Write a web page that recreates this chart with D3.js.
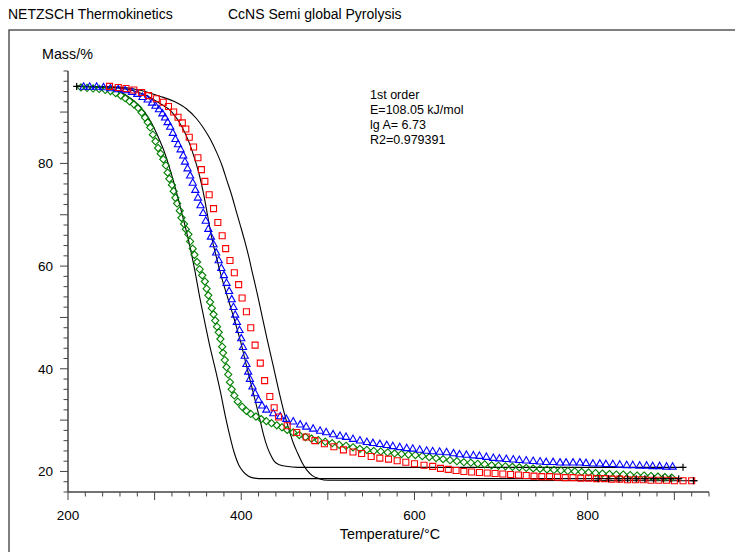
<!DOCTYPE html>
<html><head><meta charset="utf-8">
<script src="https://cdn.jsdelivr.net/npm/d3@7"></script>
<style>body{margin:0;background:#fff}svg{display:block}text{font-family:"Liberation Sans",Arial,sans-serif;fill:#000}</style>
</head><body><svg id="c" width="735" height="552"></svg>
<script>
const titleLeft = "NETZSCH Thermokinetics";
const titleRight = "CcNS Semi global Pyrolysis";
const yLabel = "Mass/%";
const xLabel = "Temperature/°C";
const annotation = ["1st order", "E=108.05 kJ/mol", "lg A= 6.73", "R2=0.979391"];
const xTickLabels = [200, 400, 600, 800];
const yTickLabels = [20, 40, 60, 80];

// measured points [T, mass]
const green = [[215,94.8],[222,94.7],[229,94.6],[236,94.5],[243,94.3],[249,94.1],[255,93.7],[261,93.2],[266,92.7],[271,92.1],[276,91.5],[281,90.8],[285,89.9],[289,88.9],[292,88.0],[295,87.0],[298,85.6],[301,84.3],[304,83.0],[307,81.9],[310,80.8],[313,79.6],[315,78.2],[317,77.0],[320,75.8],[322,74.6],[324,73.3],[326,72.2],[329,70.8],[331,69.4],[334,68.2],[336,67.2],[339,66.2],[341,64.8],[344,63.4],[346,62.2],[349,60.8],[352,59.4],[355,58.2],[358,57.0],[360,55.6],[362,54.3],[364,53.0],[366,51.8],[368,50.6],[370,49.4],[372,48.2],[374,47.1],[376,45.8],[378,44.3],[379,43.1],[381,41.7],[383,40.3],[385,38.9],[387,37.4],[389,36.0],[392,34.8],[396,33.6],[401,32.6],[406,31.8],[411,31.2],[417,30.7],[423,30.2],[429,29.8],[435,29.4],[441,29.0],[447,28.6],[453,28.1],[460,27.6],[467,27.1],[474,26.7],[481,26.4],[489,26.1],[497,25.8],[505,25.5],[513,25.2],[521,25.0],[529,24.7],[537,24.4],[545,24.2],[553,24.0],[561,23.9],[569,23.7],[577,23.5],[585,23.4],[593,23.3],[601,23.2],[609,23.0],[617,22.8],[625,22.6],[633,22.4],[641,22.2],[649,22.0],[657,21.8],[665,21.7],[673,21.5],[681,21.4],[689,21.2],[697,21.1],[705,21.0],[713,20.9],[721,20.8],[729,20.7],[737,20.6],[745,20.5],[753,20.4],[761,20.3],[769,20.2],[777,20.1],[785,20.0],[793,19.9],[801,19.8],[809,19.7],[817,19.6],[825,19.5],[833,19.4],[841,19.4],[849,19.3],[857,19.2],[865,19.2],[873,19.1],[881,19.0],[889,18.9],[897,18.8]];

const blue = [[218,95.0],[225,95.0],[233,95.0],[241,94.9],[249,94.7],[258,94.5],[266,94.3],[274,94.0],[280,93.6],[286,93.0],[292,92.5],[297,91.9],[301,91.3],[305,90.6],[309,89.8],[312,89.0],[315,88.1],[318,87.2],[321,86.0],[324,84.8],[327,83.8],[330,82.8],[333,81.6],[335,80.4],[338,79.1],[341,77.7],[344,76.3],[347,74.9],[350,73.4],[353,71.9],[356,70.4],[359,68.9],[362,67.3],[365,65.8],[368,64.3],[371,62.7],[374,61.2],[377,59.7],[380,58.3],[383,56.8],[386,55.2],[389,53.6],[391,52.1],[393,50.6],[395,49.2],[398,47.6],[400,46.0],[402,44.3],[404,42.6],[406,41.0],[408,39.5],[410,38.1],[413,36.6],[416,35.3],[420,34.0],[424,32.9],[429,32.1],[437,31.4],[445,30.8],[452,30.3],[460,29.8],[468,29.2],[475,28.8],[483,28.4],[491,28.0],[498,27.7],[506,27.3],[514,27.0],[521,26.8],[529,26.4],[537,26.1],[545,25.8],[552,25.6],[560,25.4],[568,25.2],[575,25.0],[583,24.8],[591,24.6],[598,24.5],[606,24.3],[614,24.1],[621,24.0],[629,23.9],[637,23.8],[645,23.6],[652,23.4],[660,23.3],[668,23.2],[675,23.1],[683,22.9],[691,22.7],[698,22.6],[706,22.5],[714,22.4],[721,22.3],[729,22.2],[737,22.1],[745,22.0],[752,21.9],[760,21.9],[768,21.8],[775,21.8],[783,21.8],[791,21.8],[798,21.7],[806,21.6],[814,21.6],[821,21.5],[829,21.5],[837,21.4],[845,21.3],[852,21.3],[860,21.2],[868,21.2],[875,21.1],[883,21.1],[891,21.0],[898,21.0]];

const red = [[248,95.0],[258,94.8],[267,94.6],[276,94.3],[285,93.8],[293,93.2],[302,92.6],[310,91.9],[316,91.1],[322,90.0],[327,89.0],[332,87.9],[336,86.7],[340,85.1],[345,83.2],[350,81.1],[354,78.8],[358,76.5],[363,73.9],[368,71.2],[373,68.5],[378,65.9],[382,63.4],[387,61.1],[392,58.7],[397,56.4],[401,53.8],[406,51.1],[411,48.0],[416,44.6],[422,41.1],[427,37.7],[433,34.6],[438,32.4],[443,30.6],[453,28.9],[464,27.6],[475,26.7],[485,26.0],[496,25.4],[507,24.8],[518,24.2],[529,23.8],[539,23.5],[550,22.9],[560,22.6],[570,22.4],[580,22.1],[590,21.8],[600,21.5],[611,21.2],[621,21.0],[630,20.6],[639,20.4],[648,20.2],[657,20.0],[666,19.9],[675,19.8],[684,19.7],[693,19.6],[702,19.5],[711,19.4],[720,19.3],[729,19.2],[738,19.1],[747,19.0],[756,19.0],[765,18.9],[774,18.8],[783,18.8],[792,18.7],[801,18.7],[810,18.6],[819,18.6],[828,18.5],[837,18.5],[846,18.4],[855,18.4],[864,18.4],[873,18.3],[882,18.3],[891,18.3],[900,18.2],[910,18.2],[920,18.2]];

// fitted curves [T, mass]
const fitGreen = [[210,95.0],[230,94.9],[250,94.5],[262,93.8],[272,92.7],[280,91.6],[288,90.1],[296,88.0],[303,85.6],[310,82.8],[316,79.8],[322,76.4],[328,72.6],[334,68.6],[340,64.4],[346,59.5],[352,54.0],[358,49.0],[364,44.2],[370,40.0],[376,35.5],[382,30.5],[387,26.8],[392,23.6],[397,21.3],[402,20.0],[408,19.1],[415,18.7],[425,18.6],[902,18.6]];
const fitBlue = [[210,95.0],[240,94.9],[270,94.4],[290,93.3],[305,91.8],[320,90.0],[332,87.0],[340,84.0],[347,80.5],[352,77.5],[356,74.5],[361,70.0],[366,65.5],[372,61.3],[377,58.0],[385,53.5],[392,49.6],[400,44.8],[406,40.6],[412,36.6],[417,33.2],[422,29.8],[426,27.0],[430,24.8],[434,23.2],[438,22.0],[444,21.3],[452,21.0],[465,20.8],[910,20.8]];
const fitRed = [[210,95.0],[250,94.9],[279,94.4],[306,93.1],[322,92.1],[337,90.6],[348,88.8],[356,87.0],[364,84.8],[372,82.0],[378,79.5],[383,76.9],[389,73.8],[394,70.8],[399,67.9],[404,64.9],[409,61.6],[413,58.6],[418,55.0],[424,50.3],[430,45.7],[437,40.5],[443,36.0],[449,31.8],[455,28.2],[460,25.6],[465,23.6],[470,21.8],[476,20.2],[482,19.2],[490,18.6],[500,18.3],[927,18.2]];
const crosses = [[210,95.0],[812,18.6],[824,18.6],[836,18.6],[846,18.6],[856,18.6],[866,18.6],[876,18.6],[887,18.6],[896,18.6],[905,18.6],[910,20.8],[922,18.2]];

const svg = d3.select("#c");
const x = d3.scaleLinear().domain([200, 940]).range([68, 709]);
const y = d3.scaleLinear().domain([16, 98]).range([492, 71]);

// frame
svg.append("path").attr("d","M9,552V30H735").attr("fill","none").attr("stroke","#555").attr("stroke-width",1.5);

svg.append("text").attr("x",8).attr("y",19).attr("font-size",14).text(titleLeft);
svg.append("text").attr("x",228).attr("y",19).attr("font-size",14).text(titleRight);

// axes
const axCol = "#444";
svg.append("line").attr("x1",x(200)).attr("x2",x(940)).attr("y1",y(16)).attr("y2",y(16)).attr("stroke",axCol).attr("stroke-width",1.5);
svg.append("line").attr("x1",x(200)).attr("x2",x(200)).attr("y1",y(16)).attr("y2",y(98)).attr("stroke",axCol).attr("stroke-width",1.5);

const xt = d3.range(200, 941, 20);
svg.append("g").selectAll("line").data(xt).join("line")
  .attr("x1",d=>x(d)).attr("x2",d=>x(d)).attr("y1",y(16)).attr("y2",d=> y(16) + (d%100===0?8:4.5))
  .attr("stroke",axCol).attr("stroke-width",1);
const yt = d3.range(16, 98.1, 2);
svg.append("g").selectAll("line").data(yt).join("line")
  .attr("x1",d=> x(200) - (d%10===0?8:4.5)).attr("x2",x(200)).attr("y1",d=>y(d)).attr("y2",d=>y(d))
  .attr("stroke",axCol).attr("stroke-width",1);

svg.append("g").selectAll("text").data(xTickLabels).join("text")
  .attr("x",d=>x(d)).attr("y",y(16)+28).attr("text-anchor","middle").attr("font-size",13.5).text(d=>d);
svg.append("g").selectAll("text").data(yTickLabels).join("text")
  .attr("x",x(200)-15).attr("y",d=>y(d)+5).attr("text-anchor","end").attr("font-size",13.5).text(d=>d);

svg.append("text").attr("x",42).attr("y",59).attr("font-size",14.3).text(yLabel);
svg.append("text").attr("x",390).attr("y",539).attr("text-anchor","middle").attr("font-size",14.3).text(xLabel);

svg.append("g").selectAll("text").data(annotation).join("text")
  .attr("x",370).attr("y",(d,i)=>98.5+i*15.3).attr("font-size",12.5).text(d=>d);

// fitted lines
const line = d3.line().x(d=>x(d[0])).y(d=>y(d[1])).curve(d3.curveMonotoneX);
[fitGreen, fitBlue, fitRed].forEach(f=>{
  svg.append("path").attr("d",line(f)).attr("fill","none").attr("stroke","#000").attr("stroke-width",1.1);
});

// markers
const diamond = "M0,-3.6L3.6,0L0,3.6L-3.6,0Z";
const tri = "M0,-3.6L3.6,2.8L-3.6,2.8Z";
const sq = "M-3,-3H3V3H-3Z";
function pts(data, path, col){
  svg.append("g").selectAll("path").data(data).join("path")
    .attr("transform",d=>`translate(${x(d[0])},${y(d[1])})`).attr("d",path)
    .attr("fill","none").attr("stroke",col).attr("stroke-width",1.1);
}
pts(green, diamond, "#008000");
pts(blue, tri, "#0000ff");
pts(red, sq, "#ff0000");

svg.append("g").selectAll("path").data(crosses).join("path")
  .attr("transform",d=>`translate(${x(d[0])},${y(d[1])})`).attr("d","M-3.5,0H3.5M0,-3.5V3.5")
  .attr("stroke","#000").attr("stroke-width",1.2);
</script></body></html>
